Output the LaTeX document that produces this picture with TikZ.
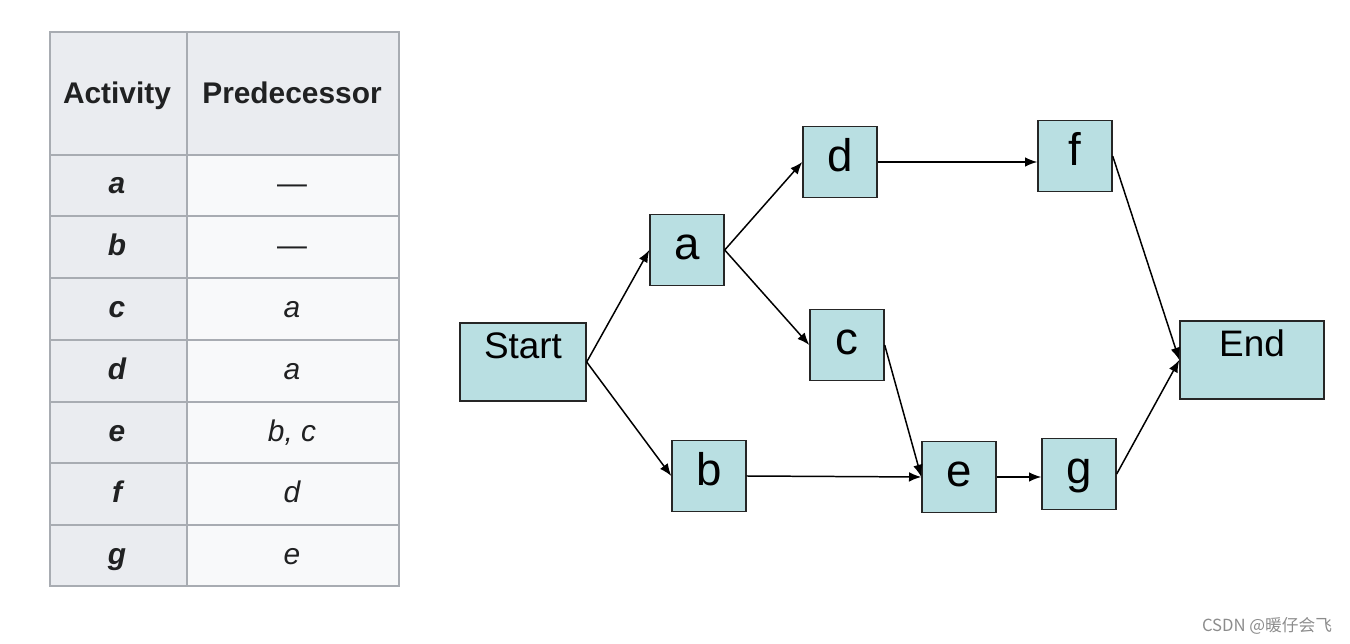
\documentclass[tikz,border=0pt]{standalone}
\usepackage{fontspec}
\setmainfont{Liberation Sans}
\newfontfamily\cjkfont{Noto Sans CJK SC}
\usetikzlibrary{arrows.meta}
\definecolor{boxfill}{RGB}{185,223,226}
\definecolor{headgray}{RGB}{234,236,240}
\definecolor{cellgray}{RGB}{248,249,250}
\definecolor{rulegray}{RGB}{168,172,178}
\definecolor{tabtext}{RGB}{32,33,34}
\begin{document}
\begin{tikzpicture}[x=0.02cm, y=-0.02cm,
        act/.style={draw=black!85, line width=0.8pt, fill=boxfill, inner sep=0pt,
            minimum width=1.48cm, minimum height=1.42cm,
            text height=0.6cm, text depth=0.22cm, font=\fontsize{26}{30}\selectfont},
        term/.style={act, minimum height=1.56cm,
            text height=0.48cm, text depth=0.6cm, font=\fontsize{21}{25}\selectfont},
        cell/.style={text=tabtext, text height=12.2pt, text depth=3.7pt, font=\fontsize{17}{20}\selectfont},
        hcell/.style={cell, font=\fontsize{17}{20}\selectfont\bfseries},
        link/.style={line width=0.85pt, -{Latex[length=7pt, width=5.5pt]}}]
        \useasboundingbox (0,0) rectangle (1350,644);
        % table
        \fill[headgray] (50,32) rectangle (399,155);
        \fill[headgray] (50,155) rectangle (187,586);
        \fill[cellgray] (187,155) rectangle (399,586);
        \draw[rulegray, line width=0.6pt] (50,32) rectangle (399,586);
        \draw[rulegray, line width=0.6pt] (187,32) -- (187,586);
        \foreach \y in {155,216,278,340,402,463,525}
            \draw[rulegray, line width=0.6pt] (50,\y) -- (399,\y);
        \node[hcell] (hAct) at (117,96) {Activity};
        \node[hcell] (hPred) at (292,96) {Predecessor};
        \node[hcell] (actA) at (117,186) {\itshape a};
        \node[cell] (preA) at (292,186) {---};
        \node[hcell] (actB) at (117,248) {\itshape b};
        \node[cell] (preB) at (292,248) {---};
        \node[hcell] (actC) at (117,310) {\itshape c};
        \node[cell] (preC) at (292,310) {\itshape a};
        \node[hcell] (actD) at (117,372) {\itshape d};
        \node[cell] (preD) at (292,372) {\itshape a};
        \node[hcell] (actE) at (117,434) {\itshape e};
        \node[cell] (preE) at (292,434) {\itshape b, c};
        \node[hcell] (actF) at (117,495) {\itshape f};
        \node[cell] (preF) at (292,495) {\itshape d};
        \node[hcell] (actG) at (117,557) {\itshape g};
        \node[cell] (preG) at (292,557) {\itshape e};
        % network
        \node[term, minimum width=2.52cm] (Start) at (523,362) {Start};
        \node[act] (A) at (687,250) {a};
        \node[act] (B) at (709,476) {b};
        \node[act] (C) at (847,345) {c};
        \node[act] (D) at (840,162) {d};
        \node[act] (E) at (959,477) {e};
        \node[act] (F) at (1075,156) {f};
        \node[act] (G) at (1079,474) {g};
        \node[term, minimum width=2.88cm] (End) at (1252,360) {End};
        \draw[link] (Start.east) -- (A.west);
        \draw[link] (Start.east) -- (B.west);
        \draw[link] (A.east) -- (D.west);
        \draw[link] (A.east) -- (C.west);
        \draw[link] (D.east) -- (D.east -| F.west);
        \draw[link] (C.east) -- (E.west);
        \draw[link] (B.east) -- (E.west);
        \draw[link] (E.east) -- (E.east -| G.west);
        \draw[link] (F.east) -- (End.west);
        \draw[link] (G.east) -- (End.west);
        \node[text=black!45, font=\cjkfont\fontsize{9.5}{11}\selectfont] (mark) at (1267,626) {CSDN @暖仔会飞};
    \end{tikzpicture}
\end{document}
